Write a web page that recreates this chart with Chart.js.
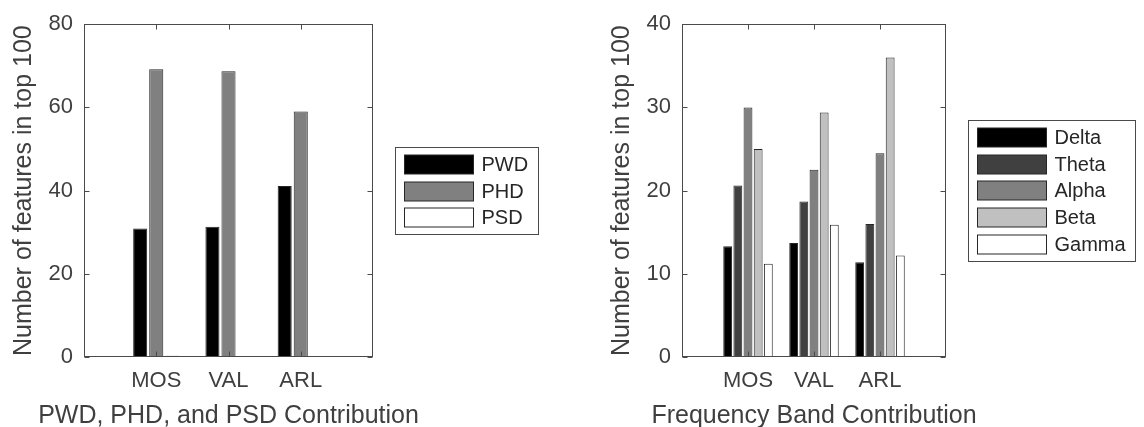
<!DOCTYPE html>
<html>
<head>
<meta charset="utf-8">
<title>Feature contribution</title>
<script src="https://cdn.jsdelivr.net/npm/chart.js@4.4.0/dist/chart.umd.min.js"></script>
<style>
    html, body { margin: 0; padding: 0; background: #fff; }
    .panel { position: absolute; top: 0; width: 572px; height: 427px; }
    #leftPanel { left: 0; }
    #rightPanel { left: 572px; }
</style>
</head>
<body>
<div class="panel" id="leftPanel"><canvas id="leftChart" width="572" height="427"></canvas></div>
<div class="panel" id="rightPanel"><canvas id="rightChart" width="572" height="427"></canvas></div>
<script>
// Categories
const groups = ['MOS', 'VAL', 'ARL'];

// Left panel: PWD / PHD / PSD
const pwdValues = [30.9, 31.3, 41.1];
const phdValues = [69.2, 68.7, 59.0];
const psdValues = [0.3, 0.2, 0.1];

// Right panel: frequency bands
const deltaValues = [13.3, 13.7, 11.4];
const thetaValues = [20.6, 18.7, 16.0];
const alphaValues = [30.0, 22.5, 24.5];
const betaValues = [25.0, 29.4, 36.0];
const gammaValues = [11.2, 15.9, 12.2];

// Tick labels
const leftTicks = [0, 20, 40, 60, 80];
const rightTicks = [0, 10, 20, 30, 40];

const fontFamily = "'Liberation Sans', Arial, Helvetica, sans-serif";
const textColor = '#3f3f3f';
const lineColor = '#4a4a4a';
const barEdge = '#262626';

Chart.defaults.font.family = fontFamily;
Chart.defaults.color = textColor;

// MATLAB style x-limits: one empty slot each side of the groups
const paddedLabels = ['', ...groups, ''];
const pad = (values) => [null, ...values, null];

function makeDataset(label, values, color) {
    return {
        label: label,
        data: pad(values),
        backgroundColor: color,
        borderColor: barEdge,
        borderWidth: 1,
        borderSkipped: false
    };
}

// Axes box, inward ticks, the x title (wider than the axes) and the boxed legend
const matlabFrame = {
    id: 'matlabFrame',
    afterDatasetsDraw(chart) {
        const { ctx, chartArea: a, scales: { x, y } } = chart;
        const L = Math.round(a.left) + 0.5;
        const R = Math.round(a.right) - 0.5;
        const T = Math.round(a.top) + 0.5;
        const B = Math.round(a.bottom) - 0.5;
        const line = (x1, y1, x2, y2) => {
            ctx.beginPath();
            ctx.moveTo(x1, y1);
            ctx.lineTo(x2, y2);
            ctx.stroke();
        };

        ctx.save();
        ctx.strokeStyle = lineColor;
        ctx.lineWidth = 1;
        ctx.strokeRect(L, T, R - L, B - T);

        y.ticks.forEach(t => {
            const py = Math.round(y.getPixelForValue(t.value)) + 0.5;
            line(L, py, L + 5, py);
            line(R, py, R - 5, py);
        });
        x.ticks.forEach((t, i) => {
            if (!x.getLabelForValue(t.value)) return;
            const px = Math.round(x.getPixelForTick(i)) + 0.5;
            line(px, B, px, B - 5);
            line(px, T, px, T + 5);
        });

        // x axis title
        const xt = chart.options.scales.x.title;
        ctx.font = '25px ' + fontFamily;
        ctx.fillStyle = textColor;
        ctx.textAlign = 'center';
        ctx.textBaseline = 'alphabetic';
        ctx.fillText(xt.text, (a.left + a.right) / 2, 423);

        // legend
        const items = chart.data.datasets;
        const rowH = 26.7, swW = 69, swH = 19, padY = 7.5, padX = 9;
        ctx.font = '20px ' + fontFamily;
        const maxW = Math.max(...items.map(d => ctx.measureText(d.label).width));
        const boxW = padX + swW + 8 + maxW + 10;
        const boxH = padY * 2 + rowH * (items.length - 1) + swH;
        const boxL = Math.round(a.right + 22) + 0.5;
        const boxT = Math.round((a.top + a.bottom) / 2 - boxH / 2) + 0.5;
        ctx.fillStyle = '#fff';
        ctx.fillRect(boxL, boxT, boxW, boxH);
        ctx.strokeRect(boxL, boxT, Math.round(boxW), Math.round(boxH));

        items.forEach((d, i) => {
            const sx = boxL + padX;
            const sy = Math.round(boxT + padY + i * rowH);
            ctx.fillStyle = d.backgroundColor;
            ctx.fillRect(sx, sy, swW, swH);
            ctx.strokeStyle = barEdge;
            ctx.strokeRect(sx, sy, swW, swH);
            ctx.fillStyle = '#262626';
            ctx.textAlign = 'left';
            ctx.textBaseline = 'middle';
            ctx.fillText(d.label, sx + swW + 8, sy + swH / 2 + 1);
        });
        ctx.restore();
    }
};

function createChart(canvasId, datasets, ticks, xTitle, padLeft, padRight, groupPct, barPct) {
    const ctx = document.getElementById(canvasId);
    return new Chart(ctx, {
        type: 'bar',
        data: {
            labels: paddedLabels,
            datasets: datasets
        },
        options: {
            responsive: false,
            animation: false,
            categoryPercentage: groupPct,
            barPercentage: barPct,
            layout: {
                padding: { top: 20, right: padRight, bottom: 0, left: padLeft }
            },
            plugins: {
                legend: { display: false },
                tooltip: { enabled: false }
            },
            scales: {
                x: {
                    type: 'category',
                    offset: false,
                    grid: { display: false, drawTicks: false },
                    border: { display: false },
                    ticks: {
                        padding: 11,
                        autoSkip: false,
                        maxRotation: 0,
                        color: textColor,
                        font: { size: 22 }
                    },
                    // drawn by matlabFrame, the text is wider than the axes
                    title: { display: false, text: xTitle },
                    afterFit: (s) => { s.height = 70; }
                },
                y: {
                    min: ticks[0],
                    max: ticks[ticks.length - 1],
                    afterBuildTicks: (s) => { s.ticks = ticks.map(v => ({ value: v })); },
                    grid: { display: false, drawTicks: false },
                    border: { display: false },
                    ticks: {
                        padding: 11,
                        color: textColor,
                        font: { size: 22 }
                    },
                    title: {
                        display: true,
                        text: 'Number of features in top 100',
                        color: textColor,
                        font: { size: 25 },
                        padding: { top: 9, bottom: 0 }
                    },
                    afterFit: (s) => { s.width = 84; }
                }
            }
        },
        plugins: [matlabFrame]
    });
}

document.addEventListener('DOMContentLoaded', () => {
    createChart('leftChart', [
        makeDataset('PWD', pwdValues, '#000000'),
        makeDataset('PHD', phdValues, '#808080'),
        makeDataset('PSD', psdValues, '#ffffff')
    ], leftTicks, 'PWD, PHD, and PSD Contribution', 0, 199, 0.667, 0.875);

    createChart('rightChart', [
        makeDataset('Delta', deltaValues, '#000000'),
        makeDataset('Theta', thetaValues, '#404040'),
        makeDataset('Alpha', alphaValues, '#808080'),
        makeDataset('Beta', betaValues, '#c0c0c0'),
        makeDataset('Gamma', gammaValues, '#ffffff')
    ], rightTicks, 'Frequency Band Contribution', 26, 198, 0.77, 0.87);
});
</script>
</body>
</html>
